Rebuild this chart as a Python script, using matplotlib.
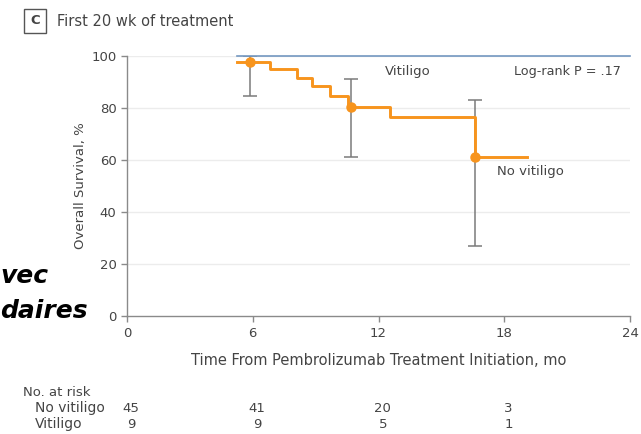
import matplotlib
matplotlib.use('Agg')
import matplotlib.pyplot as plt
import matplotlib.transforms as mtransforms

plt.rcParams['font.family'] = ['DejaVu Sans']

# Kaplan-Meier steps, no vitiligo group (months, overall survival %)
nv_time = [5.24, 6.8, 8.1, 8.85, 9.7, 10.55, 12.57, 16.6, 19.1]
nv_surv = [97.8, 95.0, 91.7, 88.5, 84.6, 80.5, 76.7, 61.3, 61.3]
# vitiligo group
v_time = [5.24, 24]
v_surv = [100, 100]
# points with 95% CI
ci_time = [5.86, 10.67, 16.6]
ci_surv = [97.8, 80.5, 61.3]
ci_low = [84.6, 61.0, 26.9]
ci_high = [100, 91.0, 83.0]
# number at risk
risk_times = [0, 6, 12, 18]
risk_no_vit = [45, 41, 20, 3]
risk_vit = [9, 9, 5, 1]

text_col = '#444444'
axis_col = '#8a8a8a'
orange = '#f7941d'
blue = '#7397c0'

fig = plt.figure(figsize=(6.41, 4.34), dpi=100)
ax = fig.add_axes([127 / 641, 1 - 316 / 434, 503 / 641, 260 / 434])

ax.set_xlim(0, 24)
ax.set_ylim(0, 100)
for y in [20, 40, 60, 80, 100]:
    ax.axhline(y, color='#ececec', lw=1, zorder=0)

ax.step(v_time, v_surv, where='post', color=blue, lw=1.2, clip_on=False, zorder=3)
ax.step(nv_time, nv_surv, where='post', color=orange, lw=2.1, clip_on=False, zorder=4)
ax.errorbar(ci_time, ci_surv,
            yerr=[[s - l for s, l in zip(ci_surv, ci_low)],
                  [h - s for s, h in zip(ci_surv, ci_high)]],
            fmt='none', ecolor='#7a7a7a', elinewidth=1.1, capsize=5, capthick=1.1,
            zorder=2)
ax.plot(ci_time, ci_surv, 'o', color=orange, ms=6.5, zorder=5, clip_on=False)

ax.text(13.38, 94.2, 'Vitiligo', ha='center', va='center', fontsize=9.5, color=text_col)
ax.text(21.0, 94.0, 'Log-rank P = .17', ha='center', va='center', fontsize=9.2, color=text_col)
ax.text(19.24, 55.4, 'No vitiligo', ha='center', va='center', fontsize=9.5, color=text_col)

for s in ['top', 'right']:
    ax.spines[s].set_visible(False)
for s in ['left', 'bottom']:
    ax.spines[s].set_color(axis_col)
    ax.spines[s].set_linewidth(1)
ax.set_xticks([0, 6, 12, 18, 24])
ax.set_yticks([0, 20, 40, 60, 80, 100])
ax.tick_params(axis='both', colors=axis_col, labelcolor=text_col, labelsize=9.5,
               length=4, width=1)
ax.tick_params(axis='x', pad=4)
ax.set_xlabel('Time From Pembrolizumab Treatment Initiation, mo', fontsize=10.5,
              color=text_col, labelpad=9)
ax.set_ylabel('Overall Survival, %', fontsize=9.5, color=text_col, labelpad=3)

# number at risk table
trans = mtransforms.blended_transform_factory(ax.transData, fig.transFigure)
fig.text(23 / 641, 1 - 392 / 434, 'No. at risk', fontsize=9.5, color=text_col, va='center')
fig.text(35 / 641, 1 - 408 / 434, 'No vitiligo', fontsize=10, color=text_col, va='center')
fig.text(35 / 641, 1 - 424 / 434, 'Vitiligo', fontsize=10, color=text_col, va='center')
for t, a, b in zip(risk_times, risk_no_vit, risk_vit):
    ax.text(t + 0.2, 1 - 408 / 434, str(a), transform=trans, ha='center', va='center',
            fontsize=9.5, color=text_col)
    ax.text(t + 0.2, 1 - 424 / 434, str(b), transform=trans, ha='center', va='center',
            fontsize=9.5, color=text_col)

# panel title
fig.text(35 / 641, 1 - 21 / 434, 'C', fontsize=9.5, fontweight='bold', color=text_col,
         ha='center', va='center',
         bbox=dict(boxstyle='square,pad=0.45', fc='white', ec='#555555', lw=1))
fig.text(57 / 641, 1 - 21 / 434, 'First 20 wk of treatment', fontsize=10.5, color=text_col,
         va='center')

# overlay text from the slide behind
fig.text(0, 1 - 276 / 434, 'vec', fontsize=18, fontweight='bold', style='italic',
         color='black', va='center')
fig.text(0, 1 - 311 / 434, 'daires', fontsize=18, fontweight='bold', style='italic',
         color='black', va='center')

fig.savefig('out.png', dpi=100)
